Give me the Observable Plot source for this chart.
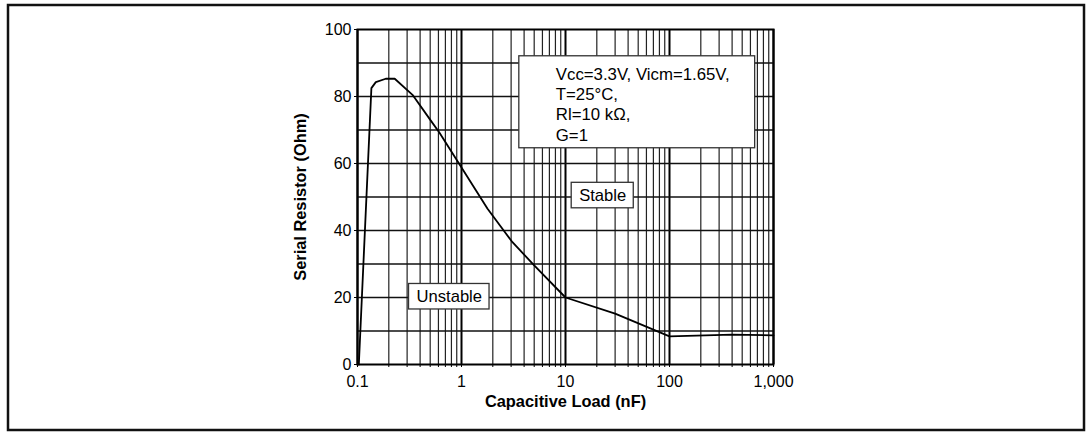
<!DOCTYPE html>
<html><head><meta charset="utf-8">
<script src="https://cdn.jsdelivr.net/npm/d3@7"></script>
<script src="https://cdn.jsdelivr.net/npm/@observablehq/plot@0.6"></script>
<style>body{margin:0;background:#fff;} svg{display:block;}</style>
</head><body><div id="chart"></div>
<script>
// Curve data: capacitive load (nF) vs serial resistor (Ohm)
const capLoad  = [0.103, 0.136, 0.15, 0.187, 0.228, 0.338, 0.507, 0.61, 1, 1.78, 3.09, 5, 10, 30, 100, 400, 1000];
const resistor = [0, 82.5, 84.3, 85.3, 85.3, 80.5, 72.8, 69.3, 58.8, 46.5, 36.5, 29.6, 20, 15.2, 8.4, 8.9, 8.7];

// Axis ticks
const xTicks = [0.1, 1, 10, 100, 1000];
const xMinor = [0.2,0.3,0.4,0.5,0.6,0.7,0.8,0.9, 2,3,4,5,6,7,8,9, 20,30,40,50,60,70,80,90, 200,300,400,500,600,700,800,900];
const yTicks = [0, 20, 40, 60, 80, 100];
const yGrid  = [10, 20, 30, 40, 50, 60, 70, 80, 90];

// Text
const xLabel = "Capacitive Load (nF)";
const yLabel = "Serial Resistor (Ohm)";
const condText = "Vcc=3.3V, Vicm=1.65V,\nT=25°C,\nRl=10 kΩ,\nG=1";
const condX = [8.07], condY = [89.3];
const regionLabels = ["Unstable", "Stable"];
const regionX = [0.763, 22.8];
const regionY = [20.1, 50.3];

const data = capLoad.map((c, i) => ({c, r: resistor[i]}));
const regions = regionLabels.map((t, i) => ({t, x: regionX[i], y: regionY[i]}));

const font = "'Liberation Sans', Arial, Helvetica, sans-serif";

const plot = Plot.plot({
  width: 1086, height: 432,
  marginLeft: 357, marginRight: 313, marginTop: 29, marginBottom: 68,
  style: {fontFamily: font, fontSize: "16px", background: "#fff", color: "#000"},
  x: {type: "log", domain: [0.1, 1000]},
  y: {domain: [0, 100]},
  marks: [
    Plot.ruleX(xMinor, {stroke: "#222", strokeWidth: 1.2}),
    Plot.ruleX(xTicks, {stroke: "#000", strokeWidth: 2}),
    Plot.ruleY(yGrid, {stroke: "#111", strokeWidth: 1.5}),
    Plot.frame({stroke: "#000", strokeWidth: 2}),
    Plot.axisX(xMinor, {tickSize: 3, tickFormat: () => "", label: null}),
    Plot.axisX(xTicks, {tickSize: 3, tickPadding: 8, tickFormat: d3.format(","), label: null, fontSize: 16}),
    Plot.axisY(yTicks, {tickSize: 3, tickPadding: 3, label: null, fontSize: 16}),
    Plot.text([xLabel], {frameAnchor: "bottom", dy: 37, fontWeight: "bold", fontSize: 16.4, lineAnchor: "middle", textAnchor: "middle"}),
    Plot.text([yLabel], {frameAnchor: "left", dx: -57, rotate: -90, fontWeight: "bold", fontSize: 16.4, lineAnchor: "middle", textAnchor: "middle"}),
    Plot.line(data, {x: "c", y: "r", stroke: "#000", strokeWidth: 1.8}),
    Plot.text([condText], {x: condX, y: condY, text: d => d, textAnchor: "start", lineAnchor: "top", lineHeight: 1.21, fontSize: 16.8}),
    Plot.text(regions, {x: "x", y: "y", text: "t", lineAnchor: "middle", fontSize: 16.6})
  ]
});
document.getElementById("chart").appendChild(plot);

// boxes behind annotation text
function boxText(match, pl, pr, pt, pb) {
  d3.select(plot).selectAll("text").filter(function() { return match(this.textContent); }).each(function() {
    const b = this.getBBox();
    d3.select(this.parentNode).insert("rect", () => this)
      .attr("transform", this.getAttribute("transform"))
      .attr("x", b.x - pl).attr("y", b.y - pt)
      .attr("width", b.width + pl + pr).attr("height", b.height + pt + pb)
      .attr("fill", "#fff").attr("stroke", "#333").attr("stroke-width", 1.3);
  });
}
boxText(t => t.startsWith("Vcc"), 37, 25, 9, 3);
boxText(t => regionLabels.includes(t), 8, 7, 4, 2.5);

// outer border
d3.select(plot).append("rect")
  .attr("x", 8).attr("y", 5).attr("width", 1076).attr("height", 425)
  .attr("fill", "none").attr("stroke", "#111").attr("stroke-width", 2.5);
</script></body></html>
